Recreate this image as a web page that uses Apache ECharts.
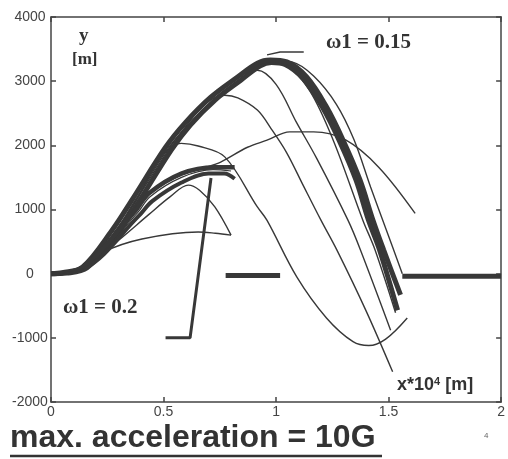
<!DOCTYPE html>
<html>
<head>
<meta charset="utf-8">
<script src="https://cdn.jsdelivr.net/npm/echarts@6/dist/echarts.min.js"></script>
<style>
  html, body { margin: 0; padding: 0; background: #fff; }
  #chart { width: 508px; height: 459px; }
</style>
</head>
<body>
<div id="chart"></div>
<script>
// axis ranges / ticks
const xRange = [0, 2];
const yRange = [-2000, 4000];
const xTickLabels = ["0", "0.5", "1", "1.5", "2"];

// omega1 = 0.15 bundle (thick)
const band15Outer = [[0,0],[0.05,15],[0.14,100],[0.272,680],[0.36,1150],[0.509,1970],[0.596,2350],[0.71,2750],[0.829,3065],[0.917,3280],[0.974,3330],[1.048,3300],[1.136,3065],[1.224,2600],[1.298,2080],[1.373,1460],[1.43,840],[1.478,370],[1.553,-330]];
const band15Inner = [[0,0],[0.07,10],[0.16,90],[0.3,650],[0.39,1120],[0.535,1930],[0.62,2320],[0.73,2710],[0.845,3020],[0.93,3240],[0.98,3290],[1.04,3260],[1.12,3040],[1.205,2600],[1.28,2080],[1.355,1460],[1.41,840],[1.46,370],[1.54,-570]];
// thin trajectories branching from the 0.15 bundle
const traj15Right = [[0,0],[0.14,100],[0.272,680],[0.36,1150],[0.509,1970],[0.596,2350],[0.71,2750],[0.829,3065],[0.917,3280],[0.99,3320],[1.07,3300],[1.167,3080],[1.268,2640],[1.346,2090],[1.42,1350],[1.49,680],[1.561,0]];
const traj15B = [[0,0],[0.16,90],[0.3,650],[0.39,1120],[0.535,1930],[0.62,2320],[0.73,2700],[0.845,3020],[0.95,3290],[1.05,3230],[1.15,2850],[1.254,2080],[1.386,830],[1.44,370],[1.531,-610]];
const traj15C = [[0,0],[0.15,90],[0.29,680],[0.375,1150],[0.52,1950],[0.61,2320],[0.72,2700],[0.83,3000],[0.917,3170],[1.0,2950],[1.092,2350],[1.18,1800],[1.32,830],[1.375,370],[1.509,-880]];
const traj15D = [[0,0],[0.155,90],[0.295,680],[0.38,1150],[0.525,1950],[0.6,2300],[0.66,2560],[0.72,2730],[0.772,2780],[0.83,2740],[0.917,2550],[0.98,2250],[1.048,1880],[1.12,1380],[1.2,830],[1.27,370],[1.4,-580],[1.518,-1530]];
const traj15Trough = [[0,0],[0.15,90],[0.29,680],[0.38,1150],[0.47,1750],[0.52,1930],[0.579,2030],[0.654,1990],[0.772,1820],[0.917,1040],[0.96,830],[1.092,-50],[1.224,-690],[1.342,-1060],[1.412,-1120],[1.487,-1020],[1.583,-690]];
const trajWideArc = [[0,0],[0.14,80],[0.377,980],[0.45,1280],[0.58,1540],[0.68,1650],[0.754,1740],[0.873,1970],[0.96,2080],[1.061,2210],[1.167,2210],[1.311,2080],[1.456,1660],[1.618,940]];

// omega1 = 0.2 bundle
const band20Top = [[0,0],[0.14,100],[0.377,990],[0.434,1250],[0.579,1560],[0.728,1660],[0.816,1660]];
const band20Low = [[0,0],[0.15,80],[0.39,900],[0.45,1130],[0.58,1420],[0.7,1560],[0.77,1560],[0.816,1480]];
const traj20Mid = [[0,0],[0.15,90],[0.385,950],[0.44,1200],[0.58,1500],[0.72,1620],[0.8,1600]];
const traj20Low = [[0,0],[0.14,80],[0.3,520],[0.434,920],[0.53,1200],[0.61,1380],[0.66,1300],[0.728,1040],[0.8,600]];
const traj20Lowest = [[0,0],[0.14,90],[0.228,330],[0.404,540],[0.654,650],[0.73,630],[0.8,600]];

// pointer lines and ground segments
const pointer15 = [[0.96,3410],[1.018,3455],[1.123,3455]];
const pointer20 = [[0.509,-1000],[0.618,-1000],[0.711,1490]];
const groundLeft = [[0.776,-30],[1.018,-30]];
const groundRight = [[1.561,-40],[2,-40]];

const ink = "#383838";

function curve(data, width, smooth = 0.35) {
  return {
    type: "line",
    data,
    smooth,
    symbol: "none",
    silent: true,
    lineStyle: { color: ink, width },
  };
}

const chart = echarts.init(document.getElementById("chart"), null, { renderer: "canvas" });

const axisLineStyle = { color: "#444", width: 1.5 };
const frameLine = { show: true, onZero: false, lineStyle: axisLineStyle };
const inTick = { show: true, inside: true, length: 5, lineStyle: axisLineStyle };

chart.setOption({
  animation: false,
  backgroundColor: "#fff",
  grid: { left: 51, top: 17, width: 456, height: 385 },
  xAxis: [
    {
      type: "value",
      min: xRange[0],
      max: xRange[1],
      interval: 0.5,
      axisLine: frameLine,
      axisTick: inTick,
      splitLine: { show: false },
      axisLabel: {
        color: "#444",
        fontFamily: "Liberation Sans, Arial",
        fontSize: 14,
        margin: 3,
        formatter: (v) => xTickLabels[Math.round(v / 0.5)] ?? "",
      },
    },
    {
      type: "value",
      position: "top",
      min: xRange[0],
      max: xRange[1],
      interval: 0.5,
      axisLine: frameLine,
      axisTick: inTick,
      axisLabel: { show: false },
      splitLine: { show: false },
    },
  ],
  yAxis: [
    {
      type: "value",
      min: yRange[0],
      max: yRange[1],
      interval: 1000,
      axisLine: frameLine,
      axisTick: inTick,
      splitLine: { show: false },
      axisLabel: {
        color: "#444",
        fontFamily: "Liberation Sans, Arial",
        fontSize: 14,
        align: "center",
        margin: 21,
        formatter: (v) => String(v),
      },
    },
    {
      type: "value",
      position: "right",
      min: yRange[0],
      max: yRange[1],
      interval: 1000,
      axisLine: frameLine,
      axisTick: inTick,
      axisLabel: { show: false },
      splitLine: { show: false },
    },
  ],
  series: [
    curve(trajWideArc, 1.4),
    curve(traj15Trough, 1.4),
    curve(traj15D, 1.4),
    curve(traj15C, 1.4),
    curve(traj15B, 1.4),
    curve(traj15Right, 1.4),
    curve(band15Inner, 5),
    curve(band15Outer, 5),
    curve(traj20Lowest, 1.4),
    curve(traj20Low, 1.4),
    curve(band20Low, 4),
    curve(band20Top, 4.5),
    curve(traj20Mid, 1.2),
    curve(pointer15, 1.5, false),
    curve(pointer20, 3, false),
    curve(groundLeft, 5, false),
    curve(groundRight, 5, false),
  ],
  graphic: [
    {
      type: "text", left: 79, top: 27,
      style: { text: "y", font: "bold 19px 'Liberation Serif', serif", fill: "#333" },
    },
    {
      type: "text", left: 72, top: 51,
      style: { text: "[m]", font: "bold 17px 'Liberation Serif', serif", fill: "#333" },
    },
    {
      type: "text", left: 326, top: 32,
      style: { text: "ω1 = 0.15", font: "bold 21px 'Liberation Serif', serif", fill: "#333" },
    },
    {
      type: "text", left: 63, top: 297,
      style: { text: "ω1 = 0.2", font: "bold 21px 'Liberation Serif', serif", fill: "#333" },
    },
    {
      type: "text", left: 397, top: 376,
      style: {
        text: "{b|x*10}{s|4}{b| [m]}",
        rich: {
          b: { font: "bold 18px 'Liberation Sans', Arial", fill: "#333" },
          s: { font: "bold 11px 'Liberation Sans', Arial", fill: "#333", verticalAlign: "top", padding: [0, 0, 8, 0] },
        },
      },
    },
    {
      type: "text", left: 10, top: 422,
      style: { text: "max. acceleration = 10G", font: "bold 32px 'Liberation Sans', Arial", fill: "#333" },
    },
    {
      type: "line",
      shape: { x1: 10, y1: 456, x2: 382, y2: 456 },
      style: { stroke: "#333", lineWidth: 2.5 },
    },
    {
      type: "text", left: 484, top: 432,
      style: { text: "4", font: "8px 'Liberation Sans', Arial", fill: "#666" },
    },
  ],
});
</script>
</body>
</html>
